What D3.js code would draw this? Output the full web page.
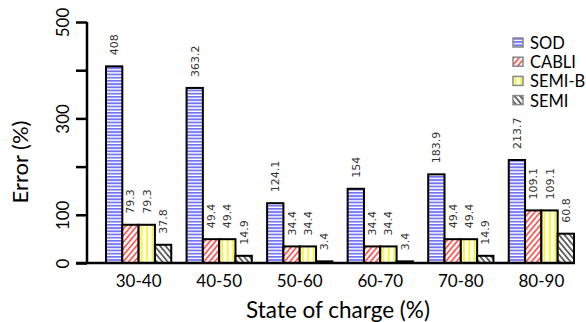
<!DOCTYPE html>
<html>
<head>
<meta charset="utf-8">
<script src="https://cdn.jsdelivr.net/npm/d3@7"></script>
<style>
  html, body { margin: 0; padding: 0; background: #fff; }
  svg { display: block; }
</style>
</head>
<body>
<svg id="chart" width="586" height="322"></svg>
<script>
// State-of-charge bins and the error (%) of each estimation method
const categories = ["30-40", "40-50", "50-60", "60-70", "70-80", "80-90"];
const seriesNames = ["SOD", "CABLI", "SEMI-B", "SEMI"];
const sod   = [408, 363.2, 124.1, 154, 183.9, 213.7];
const cabli = [79.3, 49.4, 34.4, 34.4, 49.4, 109.1];
const semiB = [79.3, 49.4, 34.4, 34.4, 49.4, 109.1];
const semi  = [37.8, 14.9, 3.4, 3.4, 14.9, 60.8];
const yTicks = [0, 100, 200, 300, 400, 500];
const yTickLabels = ["0", "100", "", "300", "", "500"];

const series = [sod, cabli, semiB, semi];
const patternIds = ["pat-sod", "pat-cabli", "pat-semib", "pat-semi"];

const svg = d3.select("#chart");
const fontMain = "Lato, 'Open Sans', sans-serif";

// Hatch patterns for the four methods
const defs = svg.append("defs");
const pSod = defs.append("pattern").attr("id", "pat-sod")
  .attr("patternUnits", "userSpaceOnUse").attr("width", 6).attr("height", 3.2);
pSod.append("rect").attr("width", 6).attr("height", 3.2).attr("fill", "#fff");
pSod.append("rect").attr("width", 6).attr("height", 1.8).attr("fill", "#7474f2");

const pCab = defs.append("pattern").attr("id", "pat-cabli")
  .attr("patternUnits", "userSpaceOnUse").attr("width", 4.2).attr("height", 4.2)
  .attr("patternTransform", "rotate(40)");
pCab.append("rect").attr("width", 4.2).attr("height", 4.2).attr("fill", "#fff");
pCab.append("rect").attr("width", 1.8).attr("height", 4.2).attr("fill", "#ff5a5a");

const pSb = defs.append("pattern").attr("id", "pat-semib")
  .attr("patternUnits", "userSpaceOnUse").attr("width", 5.5).attr("height", 4);
pSb.append("rect").attr("width", 5.5).attr("height", 4).attr("fill", "#fff");
pSb.append("rect").attr("x", 1.5).attr("width", 2.2).attr("height", 4).attr("fill", "#f6f640");

const pSemi = defs.append("pattern").attr("id", "pat-semi")
  .attr("patternUnits", "userSpaceOnUse").attr("width", 4.2).attr("height", 4.2)
  .attr("patternTransform", "rotate(-40)");
pSemi.append("rect").attr("width", 4.2).attr("height", 4.2).attr("fill", "#fff");
pSemi.append("rect").attr("width", 1.8).attr("height", 4.2).attr("fill", "#5a5a5a");

// Scales
const x0 = d3.scaleBand().domain(categories).range([106, 574])
  .paddingInner(0.19).paddingOuter(0);
const x1 = d3.scaleBand().domain(seriesNames).range([0, x0.bandwidth()]).padding(0);
const y = d3.scaleLinear().domain([0, 500]).range([263, 22]);

// Bars
const groups = svg.append("g").selectAll("g")
  .data(categories).join("g")
  .attr("transform", d => `translate(${x0(d)},0)`);

groups.selectAll("rect")
  .data((c, i) => seriesNames.map((s, k) => ({ s, k, v: series[k][i] })))
  .join("rect")
  .attr("x", d => x1(d.s))
  .attr("y", d => y(d.v))
  .attr("width", x1.bandwidth())
  .attr("height", d => y(0) - y(d.v))
  .attr("fill", d => `url(#${patternIds[d.k]})`)
  .attr("stroke", "#000")
  .attr("stroke-width", 2);

// Value labels, rotated above each bar
groups.selectAll("text.val")
  .data((c, i) => seriesNames.map((s, k) => ({ s, k, v: series[k][i] })))
  .join("text")
  .attr("class", "val")
  .attr("transform", d => `translate(${x1(d.s) + x1.bandwidth() / 2 + 4},${y(d.v) - 11}) rotate(-90)`)
  .attr("font-family", "'DejaVu Sans', sans-serif")
  .attr("font-size", 11)
  .attr("fill", "#333")
  .text(d => d.v);

// Y axis
const yAxis = d3.axisLeft(y).tickValues(yTicks)
  .tickFormat((d, i) => yTickLabels[i]).tickSize(11).tickPadding(0);
const gy = svg.append("g").attr("transform", "translate(87,0)").call(yAxis);
gy.select(".domain").attr("d", `M0,${y(500)}V${y(0)}`).attr("stroke", "#000").attr("stroke-width", 2.5);
gy.selectAll(".tick line").attr("stroke", "#000").attr("stroke-width", 2.5);
gy.selectAll(".tick text")
  .attr("x", null).attr("dy", null)
  .attr("transform", "translate(-25,0) rotate(-90)")
  .attr("text-anchor", "middle")
  .attr("dominant-baseline", "central")
  .attr("font-family", fontMain)
  .attr("font-size", 17)
  .attr("fill", "#000");

// X axis
const xAxis = d3.axisBottom(x0).tickSize(0).tickPadding(12);
const gx = svg.append("g").attr("transform", `translate(0,${y(0)})`).call(xAxis);
gx.select(".domain").attr("d", "M76,0H575").attr("stroke", "#000").attr("stroke-width", 2.5);
gx.selectAll(".tick text")
  .attr("font-family", fontMain)
  .attr("font-size", 17)
  .attr("fill", "#000");

// Axis titles
svg.append("text")
  .attr("x", 338).attr("y", 318)
  .attr("text-anchor", "middle")
  .attr("font-family", fontMain)
  .attr("font-size", 22.5)
  .attr("fill", "#000")
  .text("State of charge (%)");

svg.append("text")
  .attr("transform", "translate(28,162) rotate(-90)")
  .attr("text-anchor", "middle")
  .attr("font-family", fontMain)
  .attr("font-size", 22)
  .attr("fill", "#000")
  .text("Error (%)");

// Legend
const legend = svg.append("g").attr("transform", "translate(513,38)");
const item = legend.selectAll("g").data(seriesNames).join("g")
  .attr("transform", (d, i) => `translate(0,${i * 19.2})`);
item.append("rect")
  .attr("width", 10).attr("height", 9)
  .attr("fill", (d, i) => `url(#${patternIds[i]})`)
  .attr("stroke", "#888").attr("stroke-width", 1.5);
item.append("text")
  .attr("x", 17).attr("y", 5)
  .attr("dominant-baseline", "central")
  .attr("font-family", fontMain)
  .attr("font-size", 16.5)
  .attr("fill", "#000")
  .text(d => d);
</script>
</body>
</html>
